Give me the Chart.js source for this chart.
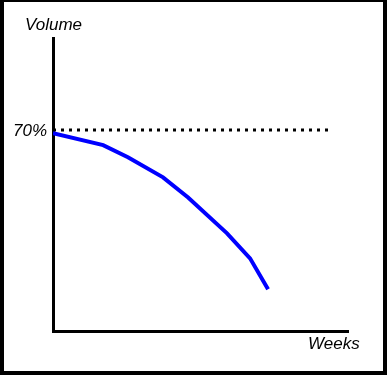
<!DOCTYPE html>
<html>
<head>
<meta charset="utf-8">
<script src="https://cdn.jsdelivr.net/npm/chart.js@4"></script>
<style>
  html, body { margin: 0; padding: 0; background: #fff; }
  #frame {
    width: 379px; height: 369px;
    border-style: solid; border-color: #000;
    border-width: 2px 4px 4px 4px;
  }
  canvas { display: block; }
</style>
</head>
<body>
<div id="frame"><canvas id="chart" width="379" height="369"></canvas></div>
<script>
// weeks (arbitrary units along the x axis) and volume in %
const weeks = [0, 17, 25.4, 37.3, 45.8, 59, 66.8, 72.9];
const volume = [68.9, 64.7, 60.5, 53.5, 46.5, 34.0, 25.3, 14.5];
const refWeeks = [0, 94];
const refVolume = [70, 70];
const refLabel = '70%';
const yTitle = 'Volume';
const xTitle = 'Weeks';

const labelFont = 'italic 17px "Liberation Sans", Arial, sans-serif';

// draws the free text labels: axis names and the 70% mark
const textPlugin = {
    id: 'texts',
    afterDraw(chart) {
        const ctx = chart.ctx;
        const xs = chart.scales.x;
        const ys = chart.scales.y;
        ctx.save();
        ctx.font = labelFont;
        ctx.fillStyle = '#000';
        ctx.textBaseline = 'alphabetic';
        ctx.textAlign = 'left';
        ctx.fillText(yTitle, xs.left - 28, ys.top - 8);
        ctx.textAlign = 'right';
        ctx.fillText(refLabel, xs.left - 6, ys.getPixelForValue(refVolume[0]) + 6);
        ctx.textAlign = 'left';
        ctx.fillText(xTitle, xs.right - 40, ys.bottom + 18);
        ctx.restore();
    }
};

new Chart(document.getElementById('chart'), {
    type: 'line',
    data: {
        datasets: [{
            data: weeks.map((w, i) => ({x: w, y: volume[i]})),
            borderColor: '#0000ff',
            borderWidth: 4,
            pointRadius: 0,
            tension: 0,
            fill: false
        }, {
            data: refWeeks.map((w, i) => ({x: w, y: refVolume[i]})),
            borderColor: '#000',
            borderWidth: 3,
            borderDash: [3, 5],
            pointRadius: 0,
            fill: false
        }]
    },
    options: {
        responsive: false,
        animation: false,
        layout: { padding: { left: 49, top: 36, right: 35, bottom: 40 } },
        plugins: { legend: { display: false }, tooltip: { enabled: false } },
        scales: {
            x: {
                type: 'linear', min: 0, max: 100,
                grid: { display: false, drawTicks: false, tickLength: 0 },
                ticks: { display: false },
                border: { color: '#000', width: 3 }
            },
            y: {
                type: 'linear', min: 0, max: 102,
                grid: { display: false, drawTicks: false, tickLength: 0 },
                ticks: { display: false },
                border: { color: '#000', width: 3 }
            }
        }
    },
    plugins: [textPlugin]
});
</script>
</body>
</html>
